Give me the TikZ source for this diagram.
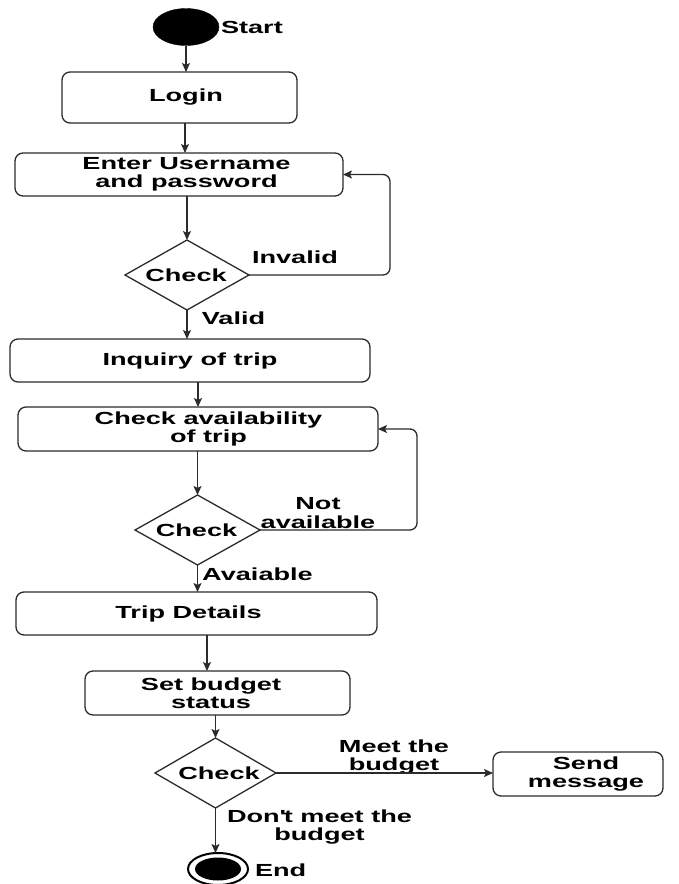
\documentclass[tikz,border=0pt]{standalone}
\usepackage{fontspec}
\newfontfamily\flowfont[FakeStretch=1.55]{Liberation Sans}
\usetikzlibrary{shapes.geometric, arrows.meta}
\definecolor{inkgray}{HTML}{2B2B2B}

\begin{document}
\begin{tikzpicture}[x=1pt, y=-1pt,
  every node/.style={font=\flowfont\bfseries\fontsize{17.5}{18.5}\selectfont, text=black, inner sep=0pt, outer sep=0pt},
  txt/.style={align=center},
  box/.style={draw=inkgray, line width=1.3pt, rounded corners=8pt, rectangle},
  decision/.style={draw=inkgray, line width=1.3pt, diamond},
  flow/.style={draw=inkgray, line width=1.3pt, -{Stealth[length=9pt, width=8pt, inset=2pt]}},
  loopback/.style={flow, rounded corners=7pt},
]
\useasboundingbox (0,0) rectangle (678,884);

% start state
\node[ellipse, draw=black, fill=black, minimum width=66pt, minimum height=37pt] (start) at (186,27) {};
\node[anchor=west] (startlbl) at (221,27) {Start};

% activities and decisions
\node[box, minimum width=235pt, minimum height=51pt,
      label={[txt, xshift=6.5pt]center:Login}] (login) at (179.5,97.5) {};
\node[box, minimum width=328pt, minimum height=43pt,
      label={[txt, xshift=7.5pt]center:Enter Username\\and password}] (enter) at (179,174.5) {};
\node[decision, minimum width=124pt, minimum height=70pt,
      label={[txt, xshift=-1pt]center:Check}] (check1) at (187,275) {};
\node[box, minimum width=360pt, minimum height=43pt,
      label={[txt]center:Inquiry of trip}] (inquiry) at (190,360.5) {};
\node[box, minimum width=360pt, minimum height=44pt,
      label={[txt, xshift=10.5pt]center:Check availability\\of trip}] (avail) at (198,429) {};
\node[decision, minimum width=125pt, minimum height=70pt,
      label={[txt, xshift=-1pt]center:Check}] (check2) at (197.5,530) {};
\node[box, minimum width=361pt, minimum height=43pt,
      label={[txt, xshift=-8pt]center:Trip Details}] (trip) at (196.5,613.5) {};
\node[box, minimum width=265pt, minimum height=44pt,
      label={[txt, xshift=-6.5pt]center:Set budget\\status}] (budget) at (217.5,693) {};
\node[decision, minimum width=121pt, minimum height=70pt,
      label={[txt, xshift=3.5pt]center:Check}] (check3) at (215.5,773) {};
\node[box, minimum width=170pt, minimum height=44pt,
      label={[txt, xshift=8pt]center:Send\\message}] (send) at (578,774) {};

% end state
\node[ellipse, draw=black, line width=2pt, minimum width=60pt, minimum height=32pt] (endo) at (218,869) {};
\node[ellipse, fill=black, minimum width=46pt, minimum height=23pt] (endi) at (218,869) {};
\node[anchor=west] (endlbl) at (255,870) {End};

% guard labels
\node[txt] (invalid) at (295,257) {Invalid};
\node[txt] (valid) at (233.5,318) {Valid};
\node[txt] (notavail) at (318,513) {Not\\available};
\node[txt] (avaiable) at (257.5,574) {Avaiable};
\node[txt] (meet) at (394,757) {Meet the\\budget};
\node[txt] (dontmeet) at (319.5,827) {Don\textquotesingle t meet the\\budget};

% helper points for off-centre connectors
\coordinate (logindrop) at ([xshift=5.5pt]login.south);
\coordinate (budgettop) at ([xshift=-10.5pt]budget.north);
\coordinate (loopA) at ([xshift=47pt]enter.east);
\coordinate (loopB) at ([xshift=39pt]avail.east);

% connectors
\draw[flow] (start.south) -- (start.south |- login.north);
\draw[flow] (logindrop) -- (logindrop |- enter.north);
\draw[flow] (enter.south -| check1.north) -- (check1.north);
\draw[loopback] (check1.east) -| (loopA) -- (enter.east);
\draw[flow] (check1.south) -- (check1.south |- inquiry.north);
\draw[flow] (inquiry.south -| avail.north) -- (avail.north);
\draw[flow] (avail.south -| check2.north) -- (check2.north);
\draw[loopback] (check2.east) -| (loopB) -- (avail.east);
\draw[flow] (check2.south) -- (check2.south |- trip.north);
\draw[flow] (budgettop |- trip.south) -- (budgettop);
\draw[flow] (budget.south -| check3.north) -- (check3.north);
\draw[flow] (check3.east) -- (check3.east -| send.west);
\draw[flow] (check3.south) -- (check3.south |- endo.north);
\end{tikzpicture}
\end{document}
